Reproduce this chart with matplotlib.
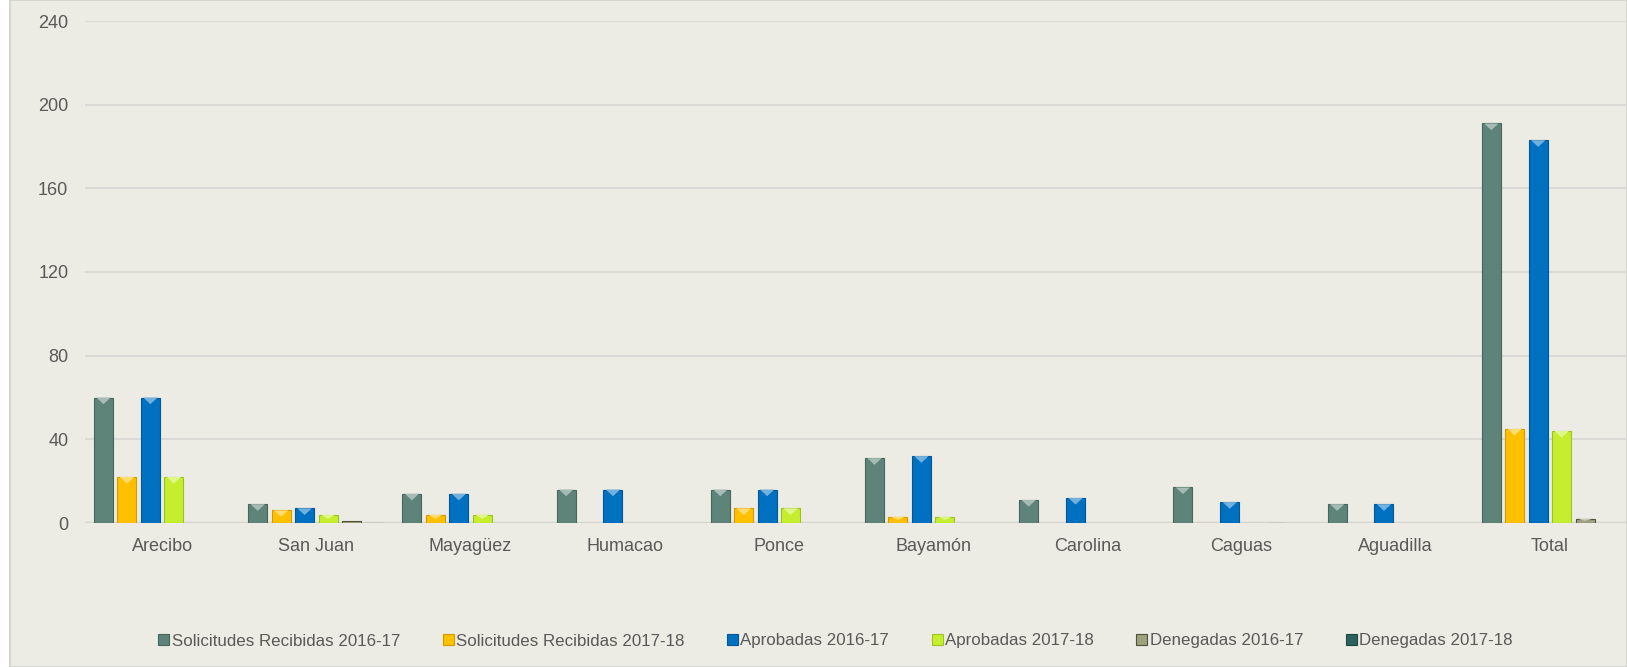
import numpy as np
import matplotlib
matplotlib.use('Agg')
import matplotlib.pyplot as plt
from matplotlib.patches import Rectangle, Polygon
from matplotlib.colors import to_rgb

plt.rcParams['font.family'] = ['Liberation Sans', 'DejaVu Sans']

# Datos
regiones = ['Arecibo', 'San Juan', 'Mayagüez', 'Humacao', 'Ponce',
            'Bayamón', 'Carolina', 'Caguas', 'Aguadilla', 'Total']
series = ['Solicitudes Recibidas 2016-17', 'Solicitudes Recibidas 2017-18',
          'Aprobadas 2016-17', 'Aprobadas 2017-18',
          'Denegadas 2016-17', 'Denegadas 2017-18']
sol_1617 = [60, 9, 14, 16, 16, 31, 11, 17, 9, 191]
sol_1718 = [22, 6, 4, np.nan, 7, 3, np.nan, 0, np.nan, 45]
apr_1617 = [60, 7, 14, 16, 16, 32, 12, 10, 9, 183]
apr_1718 = [22, 4, 4, np.nan, 7, 3, np.nan, 0, np.nan, 44]
den_1617 = [np.nan, 1, np.nan, np.nan, np.nan, np.nan, np.nan, 0, np.nan, 2]
den_1718 = [np.nan, 0, np.nan, np.nan, np.nan, np.nan, np.nan, np.nan, np.nan, np.nan]
valores = [sol_1617, sol_1718, apr_1617, apr_1718, den_1617, den_1718]

colores = ['#5E8378', '#FFC000', '#0070C0', '#C6EE2E', '#9EA283', '#2E625C']
bordes = ['#46665C', '#D49A00', '#00589A', '#9EC21E', '#4F5236', '#1E4842']


def aclarar(c, f=0.45):
    r, g, b = to_rgb(c)
    return (r + (1 - r) * f, g + (1 - g) * f, b + (1 - b) * f)


fig = plt.figure(figsize=(16.27, 6.67), dpi=100, facecolor='white')
fondo = Rectangle((10 / 1627, 0), 1 - 10 / 1627, 1, transform=fig.transFigure,
                  facecolor='#ECECE4', edgecolor='#D6D6D0', linewidth=1.5, zorder=-10)
fig.patches.append(fondo)

ax = fig.add_axes([85 / 1627, 144 / 667, 1 - 85 / 1627, (523 - 21) / 667])
ax.set_facecolor('none')
ax.set_zorder(1)

x = np.arange(len(regiones))
paso = 0.152
ancho = 0.123
for i, (nombre, vals) in enumerate(zip(series, valores)):
    barras = ax.bar(x + (i - 2.5) * paso, vals, width=ancho, color=colores[i],
                    edgecolor=bordes[i], linewidth=0.8, label=nombre, zorder=3)
    # brillo en la parte superior (efecto biselado)
    for p in barras:
        h = p.get_height()
        if not np.isfinite(h) or h <= 1.5:
            continue
        x0, w = p.get_x(), p.get_width()
        d = min(3.2, h / 2)
        tri = Polygon([(x0 + 0.12 * w, h), (x0 + 0.88 * w, h), (x0 + 0.5 * w, h - d)],
                      closed=True, facecolor=aclarar(colores[i]), edgecolor='none', zorder=4)
        ax.add_patch(tri)

ax.set_xlim(-0.5, len(regiones) - 0.5)
ax.set_ylim(0, 240)
ax.set_yticks(np.arange(0, 241, 40))
ax.yaxis.grid(True, color='#D9D9D6', linewidth=1.5, zorder=0)
ax.set_axisbelow(True)
ax.axhline(0, color='#D4D4D0', linewidth=2.5, zorder=2)
for s in ax.spines.values():
    s.set_visible(False)
ax.set_xticks(x)
ax.set_xticklabels(regiones)
ax.tick_params(axis='both', length=0, labelsize=13, labelcolor='#595959')
ax.tick_params(axis='y', pad=12)
ax.tick_params(axis='x', pad=11)

leg = fig.legend(loc='center', bbox_to_anchor=(0.5135, 26 / 667), ncol=6, frameon=False,
                 fontsize=12.2, handlelength=0.65, handleheight=0.65, handletextpad=0.15,
                 columnspacing=2.5, borderpad=0)
for t in leg.get_texts():
    t.set_color('#595959')

fig.savefig('out.png', dpi=100, facecolor=fig.get_facecolor())
